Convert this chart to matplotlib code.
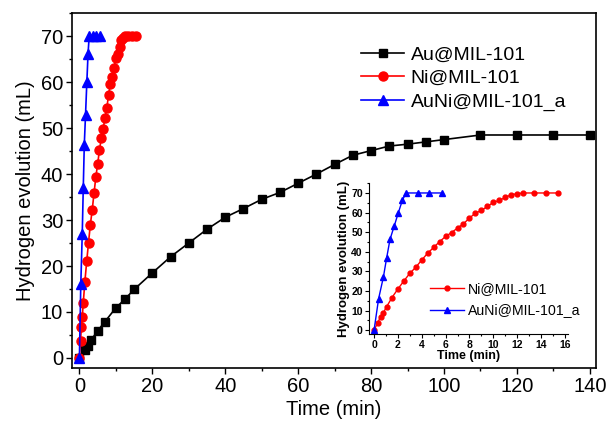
import numpy as np
import matplotlib
matplotlib.use('Agg')
import matplotlib.pyplot as plt
from matplotlib.ticker import MultipleLocator

plt.rcParams['font.family'] = ['Liberation Sans', 'DejaVu Sans']

# datos
t_au = [0, 1.4, 2.3, 3.2, 5, 7, 10, 12.5, 15, 20, 25, 30, 35, 40, 45, 50, 55, 60, 65, 70,
        75, 80, 85, 90, 95, 100, 110, 120, 130, 140]
h_au = [0, 1.7, 2.7, 3.9, 5.9, 7.9, 10.9, 12.8, 14.9, 18.5, 22, 25, 28, 30.6, 32.5, 34.5,
        36, 38, 40, 42.1, 44.1, 45.1, 46.1, 46.5, 47, 47.5, 48.5, 48.5, 48.5, 48.5]

t_ni = [0, 0.3, 0.55, 0.78, 1.05, 1.5, 2, 2.5, 3, 3.5, 4, 4.5, 5, 5.5, 6, 6.5, 7, 7.5, 8,
        8.5, 9, 9.5, 10, 10.5, 11, 11.5, 12, 12.5, 13.4, 14.4, 15.4]
h_ni = [0, 3.7, 6.8, 8.9, 11.9, 16.6, 21, 25.1, 29, 32.1, 35.8, 39.3, 42.2, 45.2, 47.8,
        49.8, 52.1, 54.3, 57.2, 59.7, 61.1, 63.1, 65.2, 66.2, 67.7, 69.1, 69.6, 70, 70, 70, 70]

t_auni = [0, 0.38, 0.78, 1.06, 1.34, 1.68, 2.04, 2.37, 2.68, 3.66, 4.63, 5.67]
h_auni = [0, 16, 27, 37, 46.4, 52.9, 60, 66.2, 70, 70, 70, 70]

fig = plt.figure(figsize=(6.06, 4.25), dpi=100)
ax = fig.add_axes([0.119, 0.134, 0.864, 0.835])

ax.plot(t_au, h_au, '-s', color='black', ms=5.8, lw=1.2, label='Au@MIL-101')
ax.plot(t_ni, h_ni, '-o', color='#ff0000', ms=6.5, lw=1.2, label='Ni@MIL-101')
ax.plot(t_auni, h_auni, '-^', color='#0000ff', ms=6.5, lw=1.2, label='AuNi@MIL-101_a')

ax.set_xlim(-2, 141.6)
ax.set_ylim(-2.2, 75)
ax.xaxis.set_major_locator(MultipleLocator(20))
ax.xaxis.set_minor_locator(MultipleLocator(10))
ax.yaxis.set_major_locator(MultipleLocator(10))
ax.yaxis.set_minor_locator(MultipleLocator(5))
ax.tick_params(which='major', direction='out', length=4, width=1, labelsize=14.5, pad=2.5)
ax.tick_params(which='minor', direction='out', length=2.5, width=1)
for s in ax.spines.values():
    s.set_linewidth(1.2)
ax.set_xlabel('Time (min)', fontsize=14.5, labelpad=3)
ax.set_ylabel('Hydrogen evolution (mL)', fontsize=14.5, labelpad=4)
ax.legend(loc='upper left', bbox_to_anchor=(0.552, 0.908), frameon=False, fontsize=14,
          handlelength=2.2, handletextpad=0.35, labelspacing=0.3,
          borderpad=0, borderaxespad=0)

# grafico pequeño
ins = fig.add_axes([0.609, 0.214, 0.328, 0.355])
ins.patch.set_alpha(0)
ins.plot(t_ni, h_ni, '-o', color='#ff0000', ms=3.5, lw=1, label='Ni@MIL-101')
ins.plot(t_auni, h_auni, '-^', color='#0000ff', ms=4, lw=1, label='AuNi@MIL-101_a')
ins.set_xlim(-0.42, 16.25)
ins.set_ylim(-2, 75)
ins.spines['top'].set_visible(False)
ins.spines['right'].set_visible(False)
ins.xaxis.set_major_locator(MultipleLocator(2))
ins.xaxis.set_minor_locator(MultipleLocator(1))
ins.yaxis.set_major_locator(MultipleLocator(10))
ins.yaxis.set_minor_locator(MultipleLocator(5))
ins.tick_params(which='major', direction='out', length=3, width=0.8, labelsize=7.5, pad=1.5)
ins.tick_params(which='minor', direction='out', length=1.5, width=0.8)
for lb in ins.get_xticklabels() + ins.get_yticklabels():
    lb.set_fontweight('bold')
ins.set_xlabel('Time (min)', fontsize=9, fontweight='bold', labelpad=0)
ins.set_ylabel('Hydrogen evolution (mL)', fontsize=9.5, fontweight='bold', labelpad=1)
ins.legend(loc='upper left', bbox_to_anchor=(0.307, 0.347), frameon=False, fontsize=10.2,
           handlelength=2.4, handletextpad=0.3, labelspacing=0.55,
           borderpad=0, borderaxespad=0)

fig.savefig('out.png', dpi=100)
